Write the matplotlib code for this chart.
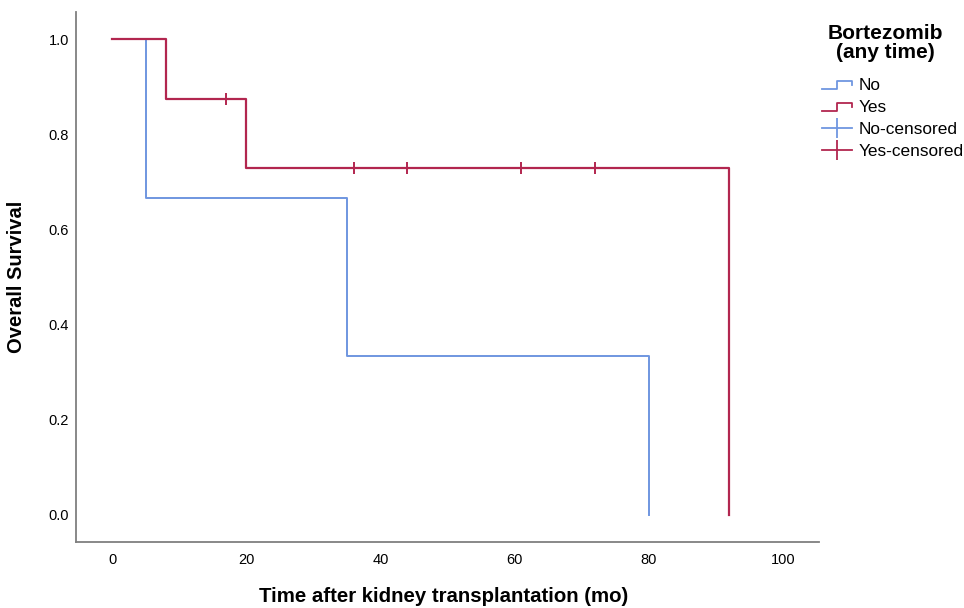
import numpy as np
from matplotlib import pyplot as plt
from matplotlib.lines import Line2D
from matplotlib.legend_handler import HandlerBase
plt.rcParams["font.family"] = ["Liberation Sans", "DejaVu Sans"]

# Kaplan-Meier step data (time in months, survival)
no_times = [0, 5, 35, 80]
no_surv = [1.0, 0.667, 0.333, 0.0]
yes_times = [0, 8, 20, 92]
yes_surv = [1.0, 0.875, 0.729, 0.0]
yes_censored = [17, 36, 44, 61, 72]
no_censored = []

x_ticks = [0, 20, 40, 60, 80, 100]
y_ticks = [0.0, 0.2, 0.4, 0.6, 0.8, 1.0]

blue = '#6f96e0'
red = '#b2264f'


def surv_at(times, surv, t):
  i = np.searchsorted(times, t, side='right') - 1
  return np.asarray(surv)[i]


class StepHandler(HandlerBase):
  def __init__(self, color):
    super().__init__()
    self.color = color

  def create_artists(self, legend, orig_handle, xdescent, ydescent, width, height, fontsize, trans):
    x0, y0 = -xdescent, -ydescent
    xs = [x0, x0 + 0.5*width, x0 + 0.5*width, x0 + width, x0 + width]
    ys = [y0 + 0.1*height, y0 + 0.1*height, y0 + 0.75*height, y0 + 0.75*height, y0 + 0.4*height]
    ln = Line2D(xs, ys, color=self.color, lw=1.3, transform=trans)
    return [ln]


fig = plt.figure(figsize=(9.64, 6.08), dpi=100)
ax = fig.add_axes([0.0788, 0.1086, 0.7708, 0.8717])

ax.step(no_times, no_surv, where='post', color=blue, lw=1.4)
ax.step(yes_times, yes_surv, where='post', color=red, lw=1.6)
if no_censored:
  ax.plot(no_censored, surv_at(no_times, no_surv, no_censored), ls='none', marker='|', ms=9, mew=1.4, color=blue)
ax.plot(yes_censored, surv_at(yes_times, yes_surv, yes_censored), ls='none', marker='|', ms=9, mew=1.4, color=red)

ax.set_xlim(-5.4, 105.4)
ax.set_ylim(-0.057, 1.057)
ax.set_xticks(x_ticks)
ax.set_yticks(y_ticks)
ax.set_xticklabels([str(t) for t in x_ticks])
ax.set_yticklabels([f'{t:.1f}' for t in y_ticks])
ax.tick_params(length=0, labelsize=10.5)
ax.tick_params(axis='x', pad=8)
ax.tick_params(axis='y', pad=5)
for s in ['top', 'right']:
  ax.spines[s].set_visible(False)
for s in ['left', 'bottom']:
  ax.spines[s].set_color('#7f7f7f')
  ax.spines[s].set_linewidth(1.3)

ax.set_xlabel('Time after kidney transplantation (mo)', fontsize=14.7, fontweight='bold')
ax.set_ylabel('Overall Survival', fontsize=14.5, fontweight='bold')
ax.xaxis.set_label_coords(0.495, -0.085)
ax.yaxis.set_label_coords(-0.067, 0.5)

handles = [
  Line2D([], [], color=blue),
  Line2D([], [], color=red),
  Line2D([], [], color=blue, marker='|', ms=14, mew=1.3, lw=1.3),
  Line2D([], [], color=red, marker='|', ms=14, mew=1.3, lw=1.3),
]
labels = ['No', 'Yes', 'No-censored', 'Yes-censored']
leg = fig.legend(handles, labels, loc='upper left',
                 bbox_to_anchor=(0.8527, 0.872), frameon=False, fontsize=12.4,
                 borderpad=0, borderaxespad=0,
                 handlelength=1.75, handletextpad=0.35, labelspacing=0.4,
                 handler_map={handles[0]: StepHandler(blue), handles[1]: StepHandler(red)})
fig.text(885/964, 1 - 43/608, 'Bortezomib\n(any time)', ha='center', va='center',
         fontsize=15, fontweight='bold', linespacing=1.05)

plt.savefig('out.png')
